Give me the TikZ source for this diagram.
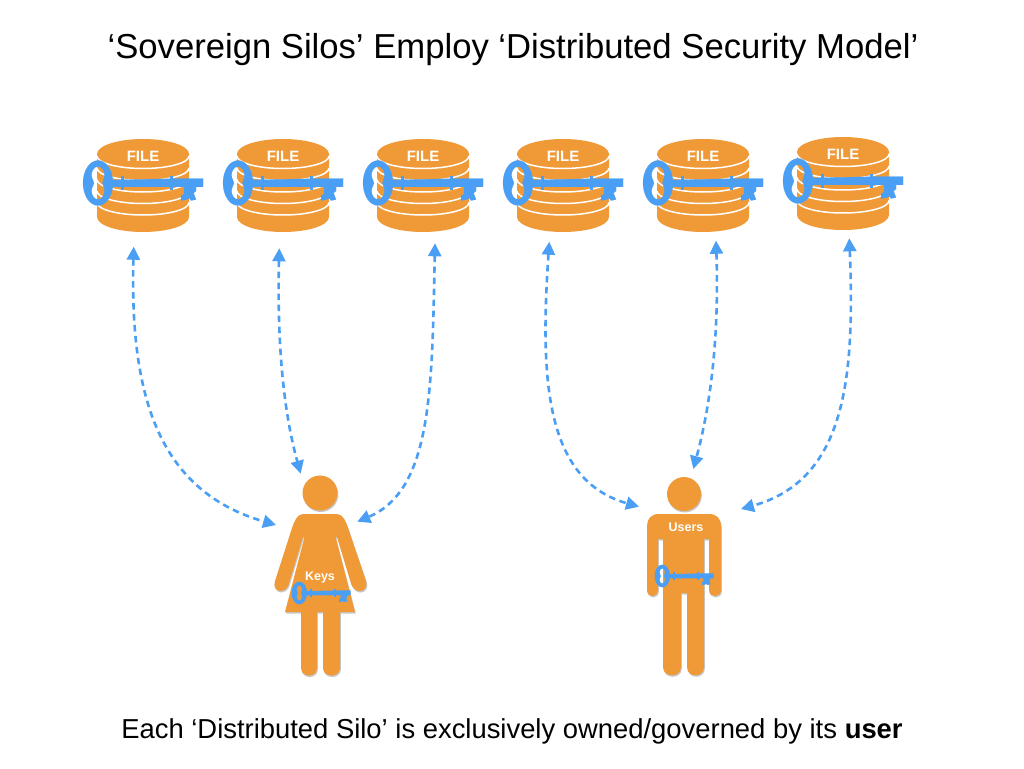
\documentclass[tikz,border=0pt]{standalone}
\usepackage{fontspec}
\setmainfont{Liberation Sans}
\definecolor{silo}{HTML}{F09A37}
\definecolor{keyblue}{HTML}{4A9FF5}
\definecolor{linkblue}{HTML}{4A9FF5}
\usetikzlibrary{arrows.meta}
\tikzset{
  x=1pt,y=-1pt,
  link/.style={draw=linkblue,line width=2.6pt,dash pattern=on 6.5pt off 4.5pt,
    {Triangle[length=13pt,width=13pt]}-{Triangle[length=13pt,width=13pt]}},
  person/.style={fill=silo,preaction={fill=black,fill opacity=.22,transform canvas={shift={(0.8pt,-1.5pt)}}}},
  headline/.style={font=\fontsize{34.65}{40}\selectfont,text=black},
  filelabel/.style={font=\fontsize{15}{17}\selectfont\bfseries,text=white},
  bodylabel/.style={font=\fontsize{12.5}{14}\selectfont\bfseries,text=white},
  pics/keyicon/.style={code={
    \filldraw[keyblue,line width=#1,even odd rule] (15,0) ellipse [x radius=15,y radius=22.5]
      (15,-16.5) .. controls (19,-16.5) and (21.5,-12) .. (21.5,-8)
      .. controls (21.5,-4) and (19.5,-2) .. (19.5,0)
      .. controls (19.5,2) and (21.5,4) .. (21.5,8)
      .. controls (21.5,12) and (19,16.5) .. (15,16.5)
      .. controls (11,16.5) and (8.5,12) .. (8.5,8)
      .. controls (8.5,4) and (11,2) .. (11,0)
      .. controls (11,-2) and (8.5,-4) .. (8.5,-8)
      .. controls (8.5,-12) and (11,-16.5) .. (15,-16.5) -- cycle;
    \filldraw[keyblue,line width=#1] (27,-3) -- (100,-4.5) -- (120,-4.5) -- (120,3.8) -- (27,3.8) -- cycle;
    \filldraw[keyblue,line width=#1] (38,-6.5) rectangle (40.5,6.5);
    \filldraw[keyblue,line width=#1] (87,-6.5) rectangle (89.5,6.5);
    \filldraw[keyblue,line width=#1] (101,3) -- (101,11) -- (98,13) -- (98,17.5) -- (104,16.5) -- (106,15) -- (108,17.5) -- (113,16.5) -- (110.5,10) -- (113,8) -- (113,3) -- cycle;
  }},
  pics/stack/.style={code={
    \fill[silo] (-46,0) -- (-46,63) arc [start angle=180,end angle=0,x radius=46,y radius=15]
      -- (46,0) arc [start angle=0,end angle=-180,x radius=46,y radius=15] -- cycle;
    \foreach \k in {46.5,35,23.5,12,0}{
      \draw[white,line width=1.5pt] (-46,\k+2) arc [start angle=180,end angle=0,x radius=46,y radius=12.5];
    }
  }},
}
\begin{document}
\begin{tikzpicture}
\useasboundingbox (0,0) rectangle (1024,768);
\node[headline] (title) at (513,50) {‘Sovereign Silos’ Employ ‘Distributed Security Model’};
\node[font=\fontsize{27.4}{32}\selectfont,text=black] (caption) at (512,731) {Each ‘Distributed Silo’ is exclusively owned/governed by its \textbf{user}};

% silos
\foreach \cx/\cy/\n in {143/154/a,283/154/b,423/154/c,563/154/d,703/154/e,843/152/f}{
  \pic at (\cx,\cy) {stack};
  \node[filelabel] (file\n) at (\cx,\cy+2) {FILE};
  \pic at (\cx-60,\cy+29) {keyicon=0.2pt};
}

% woman
\fill[person] (320,493) circle [radius=17.5];
\fill[person] (303,514) -- (337,514) .. controls (343,514) and (346,522) .. (348,528)
  -- (366,581) .. controls (368,587) and (364,591) .. (360,591)
  .. controls (356,591) and (354,589) .. (351.5,585) -- (337,537) -- (335.5,537)
  -- (355,612) -- (340,612) -- (340,668) .. controls (340,678) and (323,678) .. (323,668)
  -- (323,612) -- (317,612) -- (317,668) .. controls (317,678) and (301,678) .. (301,668)
  -- (301,612) -- (285,612) -- (304.5,537) -- (303,537) -- (288.5,585)
  .. controls (286.5,589) and (284,591) .. (281,591)
  .. controls (276,591) and (273,587) .. (275,581)
  -- (292,528) .. controls (294,522) and (297,514) .. (303,514) -- cycle;
\node[bodylabel] (keys) at (320,577) {Keys};
\pic[scale=.485] at (292,593) {keyicon=0.9pt};

% man
\fill[person] (684,494) circle [radius=17];
\fill[person] (659,514) -- (709,514) .. controls (717,514) and (721,519) .. (721,526)
  -- (721,590) .. controls (721,598) and (709,598) .. (709,590) -- (709,539) -- (704,539)
  -- (704,667) .. controls (704,678) and (687,678) .. (687,667)
  -- (687,593) -- (681,593)
  -- (681,667) .. controls (681,678) and (663,678) .. (663,667)
  -- (663,539) -- (658,539) -- (658,590) .. controls (658,598) and (647,598) .. (647,590)
  -- (647,526) .. controls (647,519) and (651,514) .. (659,514) -- cycle;
\node[bodylabel] (users) at (686,527) {Users};
\pic[scale=.485] at (655,576) {keyicon=0.9pt};

% connector ends
\coordinate (s1) at (133.7,246.7);
\coordinate (s2) at (279.3,248.3);
\coordinate (s3) at (435,243.3);
\coordinate (s4) at (549.3,241.7);
\coordinate (s5) at (716,240.7);
\coordinate (s6) at (849.3,238.3);
\coordinate (w1) at (276,525);
\coordinate (w2) at (300.7,473.7);
\coordinate (w3) at (357.3,521.7);
\coordinate (m1) at (639,506.7);
\coordinate (m2) at (693.3,469);
\coordinate (m3) at (741,509);

\draw[link] (s1) .. controls (130,390) and (155,490) .. (w1);
\draw[link] (s2) .. controls (277,340) and (283,410) .. (w2);
\draw[link] (s3) .. controls (432,390) and (432,490) .. (w3);
\draw[link] (s4) .. controls (540,380) and (545,480) .. (m1);
\draw[link] (s5) .. controls (719,330) and (712,400) .. (m2);
\draw[link] (s6) .. controls (855,380) and (845,480) .. (m3);
\end{tikzpicture}
\end{document}
